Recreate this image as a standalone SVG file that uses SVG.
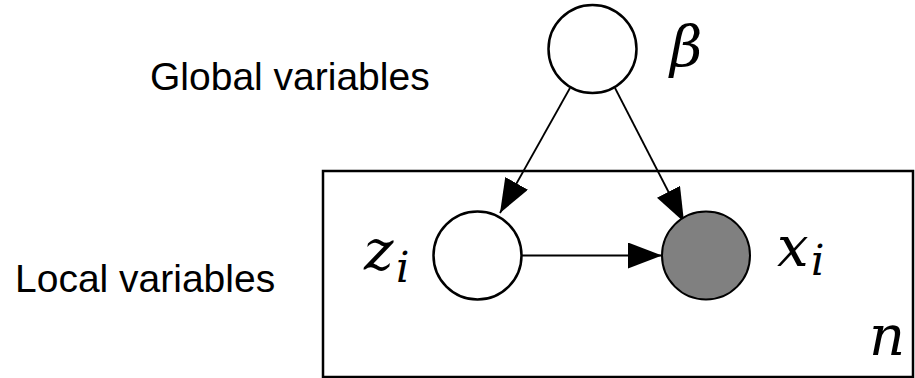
<svg xmlns="http://www.w3.org/2000/svg" width="915" height="378" viewBox="0 0 915 378">
<style>
.node{fill:#fff;stroke:#000;stroke-width:2.5}
.obs{fill:#808080;stroke:#000;stroke-width:2}
.edge{stroke:#000;stroke-width:1.8;fill:none}
.lbl{font-family:"Liberation Sans",Arial,sans-serif;font-size:39px;fill:#000}
.math{font-family:"DejaVu Serif",serif;font-style:italic;fill:#000}
</style>
<defs>
<marker id="ah" viewBox="0 0 34 26" refX="34" refY="13" markerWidth="34" markerHeight="26" markerUnits="userSpaceOnUse" orient="auto">
<path d="M0,0 L34,13 L0,26 Z" fill="#000"/>
</marker>
</defs>
<rect id="plate" x="323" y="171" width="590" height="206" fill="#fff" stroke="#000" stroke-width="2.5"/>
<text class="lbl" x="150" y="90">Global variables</text>
<text class="lbl" x="15" y="292">Local variables</text>
<g id="connectors">
<line class="edge" x1="570" y1="88" x2="500" y2="213" marker-end="url(#ah)"/>
<line class="edge" x1="615" y1="88" x2="684" y2="222" marker-end="url(#ah)"/>
<line class="edge" x1="522" y1="255.5" x2="662" y2="255.5" marker-end="url(#ah)"/>
</g>
<g id="beta">
<circle class="node" cx="592.5" cy="49" r="44"/>
<text class="math" x="670" y="66" font-size="56">β</text>
</g>
<g id="z">
<circle class="node" cx="477.5" cy="255.5" r="44"/>
<text class="math" x="364" y="270" font-size="56">z</text>
<text class="math" x="396" y="282" font-size="42">i</text>
</g>
<g id="x">
<circle class="obs" cx="706" cy="255.5" r="44"/>
<text class="math" x="777" y="266" font-size="56">x</text>
<text class="math" x="811" y="275" font-size="42">i</text>
</g>
<g id="n">
<text class="math" x="869" y="355" font-size="56">n</text>
</g>
</svg>
